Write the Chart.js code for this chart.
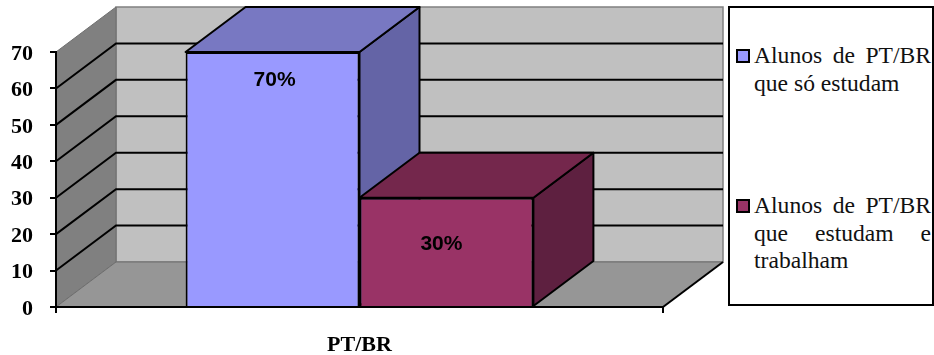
<!DOCTYPE html>
<html lang="pt">
<head>
<meta charset="utf-8">
<title>Alunos de PT/BR</title>
<script src="https://cdn.jsdelivr.net/npm/chart.js@4"></script>
<style>
html, body { margin: 0; padding: 0; background: #fff; }
#wrap { position: relative; width: 934px; height: 355px; overflow: hidden; }
#legendBox {
  position: absolute; left: 728px; top: 6px; width: 202px; height: 296px;
  border: 2px solid #000; background: #fff;
  font: 23.6px/27.5px "Liberation Serif", serif; color: #111;
}
.entry { position: absolute; left: 24px; width: 177px; text-align: justify; }
.swatch {
  position: absolute; left: -18px; top: 7px; width: 10px; height: 10px;
  border: 2px solid #000; box-sizing: content-box;
}
</style>
</head>
<body>
<div id="wrap">
  <canvas id="alunosChart" width="934" height="355"></canvas>
  <div id="legendBox"></div>
</div>
<script>
const categories = ["PT/BR"];
const seriesLabels = ["Alunos de PT/BR que só estudam", "Alunos de PT/BR que estudam e trabalham"];
const soEstudam = [70];
const estudamTrabalham = [30];
const yTicks = [0, 10, 20, 30, 40, 50, 60, 70];

const frontColors = ["#9999FF", "#993366"];
const topColors = ["#7878C2", "#74274C"];
const sideColors = ["#6464A6", "#5E2040"];

/* depth of the fake 3D box, in pixels */
const depthX = 60;
const depthY = -45;

function poly(ctx, pts, fill, stroke, width) {
  ctx.beginPath();
  pts.forEach(function (p, i) {
    if (i === 0) ctx.moveTo(p[0], p[1]);
    else ctx.lineTo(p[0], p[1]);
  });
  ctx.closePath();
  ctx.fillStyle = fill;
  ctx.fill();
  if (stroke) {
    ctx.strokeStyle = stroke;
    ctx.lineWidth = width;
    ctx.stroke();
  }
}

/* back wall, side wall, floor and gridlines */
const wallsPlugin = {
  id: "walls",
  beforeDraw: function (chart) {
    const ctx = chart.ctx;
    const y = chart.scales.y;
    const a = chart.chartArea;
    const top = y.getPixelForValue(70);
    const base = y.getPixelForValue(0);

    ctx.save();
    poly(ctx, [[a.left + depthX, top + depthY], [a.right + depthX, top + depthY], [a.right + depthX, base + depthY], [a.left + depthX, base + depthY]], "#C0C0C0", "#808080", 1.5);
    poly(ctx, [[a.left, top], [a.left + depthX, top + depthY], [a.left + depthX, base + depthY], [a.left, base]], "#808080", "#6e6e6e", 1);
    poly(ctx, [[a.left, base], [a.left + depthX, base + depthY], [a.right + depthX, base + depthY], [a.right, base]], "#969696", "#6e6e6e", 1);

    ctx.strokeStyle = "#000";
    ctx.lineWidth = 2;
    yTicks.forEach(function (v) {
      if (v === 0 || v === 70) return;
      const py = y.getPixelForValue(v);
      ctx.beginPath();
      ctx.moveTo(a.left, py);
      ctx.lineTo(a.left + depthX, py + depthY);
      ctx.lineTo(a.right + depthX, py + depthY);
      ctx.stroke();
    });

    /* right edge of the floor */
    ctx.beginPath();
    ctx.moveTo(a.right, base);
    ctx.lineTo(a.right + depthX, base + depthY);
    ctx.stroke();
    ctx.restore();
  }
};

/* top and side faces go behind the fronts, so the tall bar's side stays behind the short bar */
const barFacesPlugin = {
  id: "barFaces",
  beforeDatasetsDraw: function (chart) {
    const ctx = chart.ctx;
    ctx.save();
    ctx.lineJoin = "round";
    chart.data.datasets.forEach(function (ds, i) {
      const bar = chart.getDatasetMeta(i).data[0];
      const l = bar.x - bar.width / 2;
      const r = bar.x + bar.width / 2;
      poly(ctx, [[r, bar.y], [r + depthX, bar.y + depthY], [r + depthX, bar.base + depthY], [r, bar.base]], sideColors[i], "#000", 2);
      poly(ctx, [[l, bar.y], [l + depthX, bar.y + depthY], [r + depthX, bar.y + depthY], [r, bar.y]], topColors[i], "#000", 2);
    });
    ctx.restore();
  }
};

/* value labels on the bar fronts */
const labelDrop = [28, 46];
const labelShift = [2, -5];

const valueLabelsPlugin = {
  id: "valueLabels",
  afterDatasetsDraw: function (chart) {
    const ctx = chart.ctx;
    ctx.save();
    ctx.font = 'bold 21px "Liberation Sans", sans-serif';
    ctx.fillStyle = "#000";
    ctx.textAlign = "center";
    ctx.textBaseline = "middle";
    chart.data.datasets.forEach(function (ds, i) {
      const bar = chart.getDatasetMeta(i).data[0];
      ctx.fillText(ds.data[0] + "%", bar.x + labelShift[i], bar.y + labelDrop[i]);
    });
    ctx.restore();
  }
};

const tickFont = { family: '"Liberation Serif", serif', size: 22, weight: "bold" };

new Chart(document.getElementById("alunosChart").getContext("2d"), {
  type: "bar",
  data: {
    labels: categories,
    datasets: [
      { label: seriesLabels[0], data: soEstudam, backgroundColor: frontColors[0], borderColor: "#000", borderWidth: 2 },
      { label: seriesLabels[1], data: estudamTrabalham, backgroundColor: frontColors[1], borderColor: "#000", borderWidth: 2 }
    ]
  },
  options: {
    responsive: false,
    animation: false,
    layout: { padding: { left: 0, right: 271, top: 52, bottom: 0 } },
    plugins: { legend: { display: false }, title: { display: false }, tooltip: { enabled: false } },
    datasets: { bar: { categoryPercentage: 0.573, barPercentage: 1 } },
    scales: {
      x: {
        afterFit: function (scale) { scale.height = 48; },
        grid: { drawOnChartArea: false, color: "#000", lineWidth: 2, tickLength: 6 },
        border: { color: "#000", width: 2 },
        ticks: { color: "#000", font: tickFont, padding: 19, maxRotation: 0 }
      },
      y: {
        min: 0,
        max: 70,
        afterFit: function (scale) { scale.width = 56; },
        afterBuildTicks: function (scale) { scale.ticks = yTicks.map(function (v) { return { value: v }; }); },
        grid: { drawOnChartArea: false, color: "#000", lineWidth: 2, tickLength: 6 },
        border: { color: "#000", width: 2 },
        ticks: { color: "#000", font: tickFont, padding: 17, labelOffset: 2 }
      }
    }
  },
  plugins: [wallsPlugin, barFacesPlugin, valueLabelsPlugin]
});

/* legend built from the same series names and colours */
const legendBox = document.getElementById("legendBox");
const entryTops = [34, 184];
seriesLabels.forEach(function (text, i) {
  const entry = document.createElement("div");
  entry.className = "entry";
  entry.style.top = entryTops[i] + "px";
  const swatch = document.createElement("span");
  swatch.className = "swatch";
  swatch.style.background = frontColors[i];
  entry.appendChild(swatch);
  entry.appendChild(document.createTextNode(text));
  legendBox.appendChild(entry);
});
</script>
</body>
</html>
